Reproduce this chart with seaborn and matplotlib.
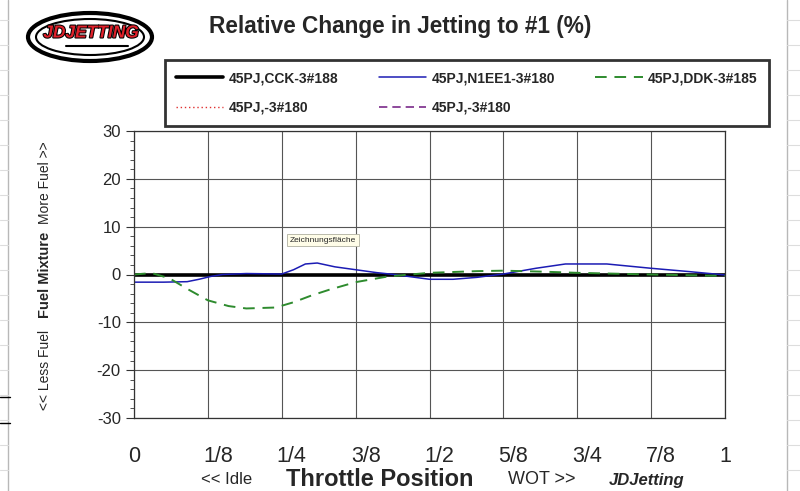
import matplotlib.pyplot as plt
from matplotlib.patches import Ellipse
from matplotlib.lines import Line2D
from matplotlib.transforms import ScaledTranslation
import matplotlib.patheffects as pe
import seaborn as sns

# series data (throttle fraction, % change)
cck_x = [0, 0.125, 0.25, 0.375, 0.5, 0.625, 0.75, 0.875, 1.0]
cck_y = [0, 0, 0, 0, 0, 0, 0, 0, 0]

n1ee1_x = [0, 0.05, 0.09, 0.11, 0.13, 0.15, 0.19, 0.25, 0.27, 0.29, 0.31, 0.34, 0.375,
           0.41, 0.44, 0.5, 0.54, 0.58, 0.625, 0.68, 0.73, 0.80, 0.875, 0.94, 1.0]
n1ee1_y = [-1.6, -1.6, -1.5, -1.0, -0.4, 0.0, 0.2, 0.1, 1.0, 2.2, 2.4, 1.6, 1.0,
           0.4, 0.0, -1.0, -1.0, -0.6, 0.1, 1.3, 2.2, 2.2, 1.3, 0.6, -0.1]

ddk_x = [0, 0.03, 0.06, 0.09, 0.125, 0.16, 0.19, 0.24, 0.27, 0.30, 0.33, 0.375,
         0.43, 0.5, 0.58, 0.625, 0.69, 0.75, 0.875, 1.0]
ddk_y = [0, 0.3, -0.8, -3.0, -5.4, -6.6, -7.1, -6.9, -5.8, -4.4, -3.2, -1.6,
         -0.4, 0.35, 0.7, 0.8, 0.6, 0.35, 0.0, -0.3]

# two series with no data, only in the legend
empty1_x, empty1_y = [], []
empty2_x, empty2_y = [], []

labels = ['45PJ,CCK-3#188', '45PJ,N1EE1-3#180', '45PJ,DDK-3#185',
          '45PJ,-3#180', '45PJ,-3#180']
x_ticks = [0, 0.125, 0.25, 0.375, 0.5, 0.625, 0.75, 0.875, 1.0]
x_ticklabels = ['0', '1/8', '1/4', '3/8', '1/2', '5/8', '3/4', '7/8', '1']
y_ticks = [-30, -20, -10, 0, 10, 20, 30]

sns.set_theme(style="white")
plt.rcParams['font.family'] = ['Liberation Sans', 'DejaVu Sans']
plt.rcParams['axes.unicode_minus'] = False

fig = plt.figure(figsize=(8, 4.91), dpi=100)
ax = fig.add_axes([134 / 800, 73 / 491, 591 / 800, 287 / 491])

sns.lineplot(x=cck_x, y=cck_y, ax=ax, color='black', linewidth=2.6, label=labels[0])
sns.lineplot(x=n1ee1_x, y=n1ee1_y, ax=ax, color='#1c1cb4', linewidth=1.1, label=labels[1])
sns.lineplot(x=ddk_x, y=ddk_y, ax=ax, color='#2e8b2e', linewidth=1.4,
             linestyle=(0, (6, 4)), label=labels[2])
ax.plot(empty1_x, empty1_y, color='#e03030', linewidth=1.0,
        linestyle=(0, (1, 2)), label=labels[3])
ax.plot(empty2_x, empty2_y, color='#7a2a8a', linewidth=1.2,
        linestyle=(0, (5, 3)), label=labels[4])

ax.set_xlim(0, 1)
ax.set_ylim(-30, 30)
ax.set_xticks(x_ticks)
ax.set_yticks(y_ticks)
ax.set_yticks(range(-30, 31, 2), minor=True)
ax.tick_params(axis='y', which='major', direction='out', length=6, width=0.8,
               left=True, labelsize=12, color='#333333')
ax.tick_params(axis='y', which='minor', direction='out', length=3, width=0.6,
               left=True, color='#333333')
ax.tick_params(axis='x', length=0, pad=20)
ax.set_xticklabels(x_ticklabels, fontsize=15.5)
# inner labels sit a little right of their gridline in the original
shift = ScaledTranslation(0.1, 0, fig.dpi_scale_trans)
for t in ax.get_xticklabels()[1:-1]:
    t.set_transform(t.get_transform() + shift)
ax.grid(True, which='major', color='#555555', linewidth=0.8)
for s in ax.spines.values():
    s.set_color('#333333')
    s.set_linewidth(0.9)
ax.set_xlabel('')
ax.set_ylabel('')

# legend box in the row-wise order of the original
h, l = ax.get_legend_handles_labels()
if ax.get_legend() is not None:
    ax.get_legend().remove()
order = [0, 3, 1, 4, 2]
leg = fig.legend([h[i] for i in order], [l[i] for i in order],
                 ncol=3, loc='upper left', bbox_to_anchor=(165 / 800, 1 - 60 / 491),
                 frameon=True, fancybox=False, shadow=False,
                 prop={'weight': 'bold', 'size': 10},
                 handlelength=3.4, borderpad=0.8, borderaxespad=0,
                 labelspacing=1.12, handletextpad=0.4, columnspacing=2.9)
leg.get_frame().set_edgecolor('black')
leg.get_frame().set_linewidth(2.0)

fig.text(0.5, 1 - 26 / 491, 'Relative Change in Jetting to #1 (%)', ha='center',
         va='center', fontsize=16.3, fontweight='bold')

# y axis title in three parts
fig.text(45 / 800, 1 - 370 / 491, '<< Less Fuel', rotation=90, ha='center',
         va='center', fontsize=10)
fig.text(45 / 800, 1 - 275 / 491, 'Fuel Mixture', rotation=90, ha='center',
         va='center', fontsize=10.5, fontweight='bold')
fig.text(45 / 800, 1 - 183 / 491, 'More Fuel >>', rotation=90, ha='center',
         va='center', fontsize=10)

# x axis title in parts (cut by the bottom edge in the original)
fig.text(227 / 800, 1 - 480 / 491, '<< Idle', ha='center', va='center', fontsize=12)
fig.text(380 / 800, 1 - 479 / 491, 'Throttle Position', ha='center', va='center',
         fontsize=17, fontweight='bold')
fig.text(542 / 800, 1 - 480 / 491, 'WOT >>', ha='center', va='center', fontsize=13)
fig.text(647 / 800, 1 - 480 / 491, 'JDJetting', ha='center', va='center',
         fontsize=12, fontweight='bold', fontstyle='italic')

# tooltip
fig.text(323 / 800, 1 - 240 / 491, 'Zeichnungsfläche', ha='center', va='center',
         fontsize=6, bbox=dict(boxstyle='square,pad=0.3', fc='#fffde8', ec='#b0b0a0', lw=0.6))

# logo
fig.add_artist(Ellipse((90 / 800, 1 - 37 / 491), 124 / 800, 48 / 491,
                       transform=fig.transFigure, fc='white', ec='black', lw=3))
fig.add_artist(Ellipse((90 / 800, 1 - 37 / 491), 108 / 800, 36 / 491,
                       transform=fig.transFigure, fc='white', ec='black', lw=1.5))
fig.text(91 / 800, 1 - 33 / 491, 'JDJETTING', ha='center', va='center', fontsize=12.5,
         fontweight='bold', fontstyle='italic', color='#e0202a',
         path_effects=[pe.withStroke(linewidth=1.5, foreground='black')])
fig.add_artist(Line2D([66 / 800, 128 / 800], [1 - 46 / 491, 1 - 46 / 491],
                      transform=fig.transFigure, color='black', lw=1.5))

# spreadsheet background lines
fig.add_artist(Line2D([8 / 800, 8 / 800], [0, 1], transform=fig.transFigure,
                      color='#b8b8b8', lw=1))
fig.add_artist(Line2D([787 / 800, 787 / 800], [0, 1], transform=fig.transFigure,
                      color='#b8b8b8', lw=1))
for yy in range(20, 491, 25):
    fig.add_artist(Line2D([0, 8 / 800], [1 - yy / 491, 1 - yy / 491],
                          transform=fig.transFigure, color='#dddddd', lw=0.8))
    fig.add_artist(Line2D([787 / 800, 1], [1 - yy / 491, 1 - yy / 491],
                          transform=fig.transFigure, color='#dddddd', lw=0.8))
for yy in [397, 423]:
    fig.add_artist(Line2D([0, 10 / 800], [1 - yy / 491, 1 - yy / 491],
                          transform=fig.transFigure, color='black', lw=1))

fig.savefig('out.png', dpi=100)
